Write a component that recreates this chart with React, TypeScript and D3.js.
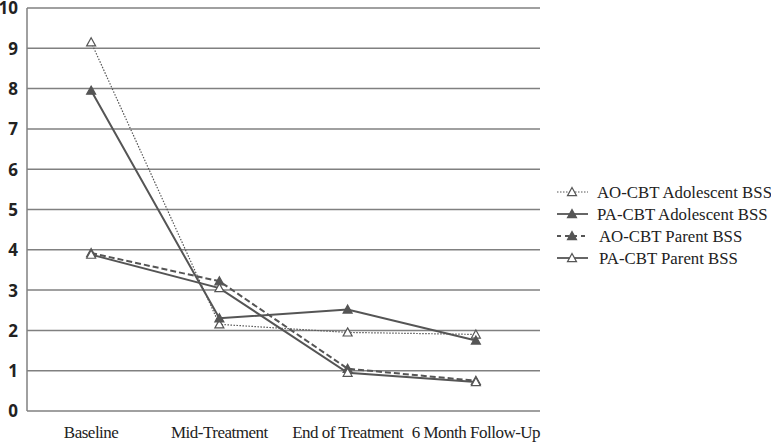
import React from "react";
import * as d3 from "d3";

const categories = ["Baseline", "Mid-Treatment", "End of Treatment", "6 Month Follow-Up"];
const aoAdolescent = [9.15, 2.15, 1.95, 1.9];
const paAdolescent = [7.95, 2.3, 2.52, 1.75];
const aoParent = [3.92, 3.22, 1.05, 0.75];
const paParent = [3.88, 3.05, 0.95, 0.72];
const yTicks = [0, 1, 2, 3, 4, 5, 6, 7, 8, 9, 10];

const seriesList = [
  { name: "AO-CBT Adolescent BSS", values: aoAdolescent, dash: "1.5,1.5", open: true },
  { name: "PA-CBT Adolescent BSS", values: paAdolescent, dash: null, open: false },
  { name: "AO-CBT Parent BSS", values: aoParent, dash: "6,3", open: false },
  { name: "PA-CBT Parent BSS", values: paParent, dash: null, open: true },
];

const margin = { left: 27, right: 540, top: 8, bottom: 411 };
const lineColor = "#555";

function Triangle({ x, y, open }: { x: number; y: number; open: boolean }) {
  const s = 4.5;
  const d = `M${x},${y - s}L${x + s},${y + s * 0.8}L${x - s},${y + s * 0.8}Z`;
  return (
    <path d={d} fill={open ? "#fff" : lineColor} stroke={lineColor} strokeWidth={1.2} />
  );
}

export default function App() {
  const x = d3.scaleBand().domain(categories).range([margin.left, margin.right]);
  const y = d3.scaleLinear().domain([0, 10]).range([margin.bottom, margin.top]);
  const cx = (c: string) => (x(c) as number) + x.bandwidth() / 2;
  const line = d3
    .line<number>()
    .x((_, i) => cx(categories[i]))
    .y((d) => y(d));

  return (
    <svg
      width={771}
      height={442}
      style={{ position: "absolute", left: 0, top: 0, background: "#fff" }}
    >
      {yTicks.map((t) => (
        <g key={t}>
          <line x1={margin.left} x2={margin.right} y1={y(t)} y2={y(t)} stroke="#808080" strokeWidth={1.5} />
          <text
            x={18}
            y={y(t)}
            dy="0.38em"
            textAnchor="end"
            fontFamily="'Open Sans', sans-serif"
            fontWeight="bold"
            fontSize={17}
            fill="#222"
          >
            {t}
          </text>
        </g>
      ))}
      <line x1={margin.left} x2={margin.left} y1={margin.top} y2={margin.bottom} stroke="#808080" strokeWidth={1.5} />
      {categories.map((c) => (
        <text
          key={c}
          x={cx(c)}
          y={438}
          textAnchor="middle"
          fontFamily="'Liberation Serif', serif"
          fontSize={17}
          letterSpacing={-0.5}
          fill="#222"
        >
          {c}
        </text>
      ))}
      {seriesList.map((s) => (
        <g key={s.name}>
          <path
            d={line(s.values) || ""}
            fill="none"
            stroke={lineColor}
            strokeWidth={s.dash === "1.5,1.5" ? 1.2 : 2}
            strokeDasharray={s.dash || undefined}
          />
          {s.values.map((v, i) => (
            <Triangle key={i} x={cx(categories[i])} y={y(v)} open={s.open} />
          ))}
        </g>
      ))}
      {seriesList.map((s, i) => {
        const ly = 192 + i * 22;
        return (
          <g key={s.name}>
            <line
              x1={557}
              x2={588}
              y1={ly}
              y2={ly}
              stroke={lineColor}
              strokeWidth={s.dash === "1.5,1.5" ? 1 : 1.8}
              strokeDasharray={s.dash === "6,3" ? "4,4" : s.dash || undefined}
            />
            <Triangle x={572} y={ly} open={s.open} />
            <text
              x={i >= 2 ? 599 : 597}
              y={ly}
              dy="0.35em"
              fontFamily="'Liberation Serif', serif"
              fontSize={16.8}
              fill="#222"
            >
              {s.name}
            </text>
          </g>
        );
      })}
    </svg>
  );
}
